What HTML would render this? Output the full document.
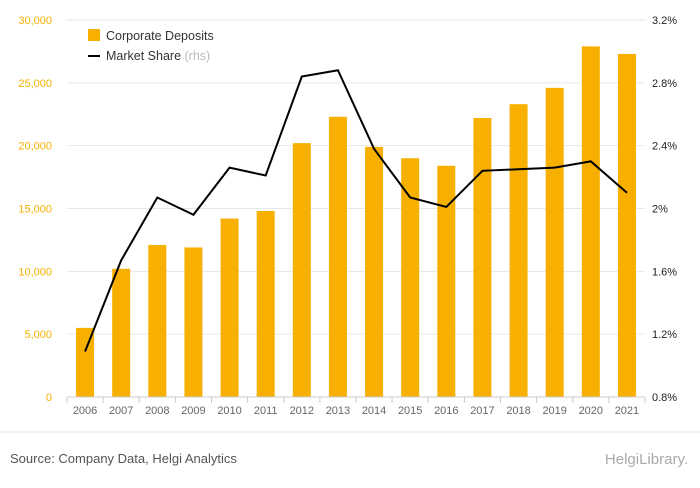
<!DOCTYPE html>
<html><head><meta charset="utf-8"><style>
body{margin:0;background:#fff;font-family:"Liberation Sans",sans-serif;}
svg text{font-family:"Liberation Sans",sans-serif;}
</style></head><body>
<svg width="700" height="483">
<g id="grid"></g>
<g id="bars"></g>
<g id="axes"></g>
<polyline id="line" fill="none" stroke="#000" stroke-width="2"/>
<g>
<rect x="88" y="29" width="12" height="12" fill="#f8b000"/>
<text x="106" y="40" font-size="12.5" fill="#333">Corporate Deposits</text>
<line x1="88" y1="56" x2="100" y2="56" stroke="#000" stroke-width="2"/>
<text x="106" y="60" font-size="12.5" fill="#333">Market Share <tspan fill="#bbb">(rhs)</tspan></text>
</g>
<line x1="0" y1="432" x2="700" y2="432" stroke="#e6e6e6"/>
<text x="10" y="463" font-size="13" fill="#555">Source: Company Data, Helgi Analytics</text>
<text x="688" y="464" font-size="15" fill="#aaa" text-anchor="end">HelgiLibrary.</text>
</svg>
<script>
const years=["2006","2007","2008","2009","2010","2011","2012","2013","2014","2015","2016","2017","2018","2019","2020","2021"];
const deposits=[5500,10200,12100,11900,14200,14800,20200,22300,19900,19000,18400,22200,23300,24600,27900,27300];
const share=[1.09,1.67,2.07,1.96,2.26,2.21,2.84,2.88,2.38,2.07,2.01,2.24,2.25,2.26,2.30,2.10];
const leftTicks=[0,5000,10000,15000,20000,25000,30000];
const rightTicks=[0.8,1.2,1.6,2.0,2.4,2.8,3.2];
const rightLabels=["0.8%","1.2%","1.6%","2%","2.4%","2.8%","3.2%"];
const X0=67,X1=645,Y0=397,Y1=20,NS="http://www.w3.org/2000/svg";
const band=(X1-X0)/years.length;
const xc=i=>X0+band*(i+0.5);
const yL=v=>Y0-(v/30000)*(Y0-Y1);
const yR=v=>Y0-((v-0.8)/2.4)*(Y0-Y1);
function mk(t,a,p){const e=document.createElementNS(NS,t);for(const k in a)e.setAttribute(k,a[k]);p.appendChild(e);return e;}
const g=document.getElementById('grid'),b=document.getElementById('bars'),ax=document.getElementById('axes');
leftTicks.forEach((v,i)=>{
 const l=mk('line',{x1:X0,x2:X1,y1:yL(v),y2:yL(v),stroke:'#e6e6e6'},g);
 
 
 const t=mk('text',{x:52,y:yL(v)+4,'font-size':11,fill:'#f8b000','text-anchor':'end'},ax);
 t.textContent=v.toLocaleString('en-US');
 
 
});
rightTicks.forEach((v,i)=>{
 const t=mk('text',{x:652,y:yR(v)+4,'font-size':11,fill:'#222'},ax);
 t.textContent=rightLabels[i];
 
 
});
const base=mk('line',{x1:X0,x2:X1,y1:Y0,y2:Y0,stroke:'#ccc'},ax);


years.forEach((y,i)=>{
 const r=mk('rect',{x:xc(i)-9,y:yL(deposits[i]),width:18,height:Y0-yL(deposits[i]),fill:'#f8b000'},b);
 
 
 const tk=mk('line',{x1:X0+band*(i+1),x2:X0+band*(i+1),y1:Y0,y2:Y0+6,stroke:'#ccc'},ax);
 
 
 const t=mk('text',{x:xc(i),y:Y0+17,'font-size':11,fill:'#666','text-anchor':'middle'},ax);
 t.textContent=y;
 
 
});
const tk0=mk('line',{x1:X0,x2:X0,y1:Y0,y2:Y0+6,stroke:'#ccc'},ax);


document.getElementById('line').setAttribute('points',share.map((v,i)=>xc(i)+','+yR(v)).join(' '));
</script>
</body></html>
